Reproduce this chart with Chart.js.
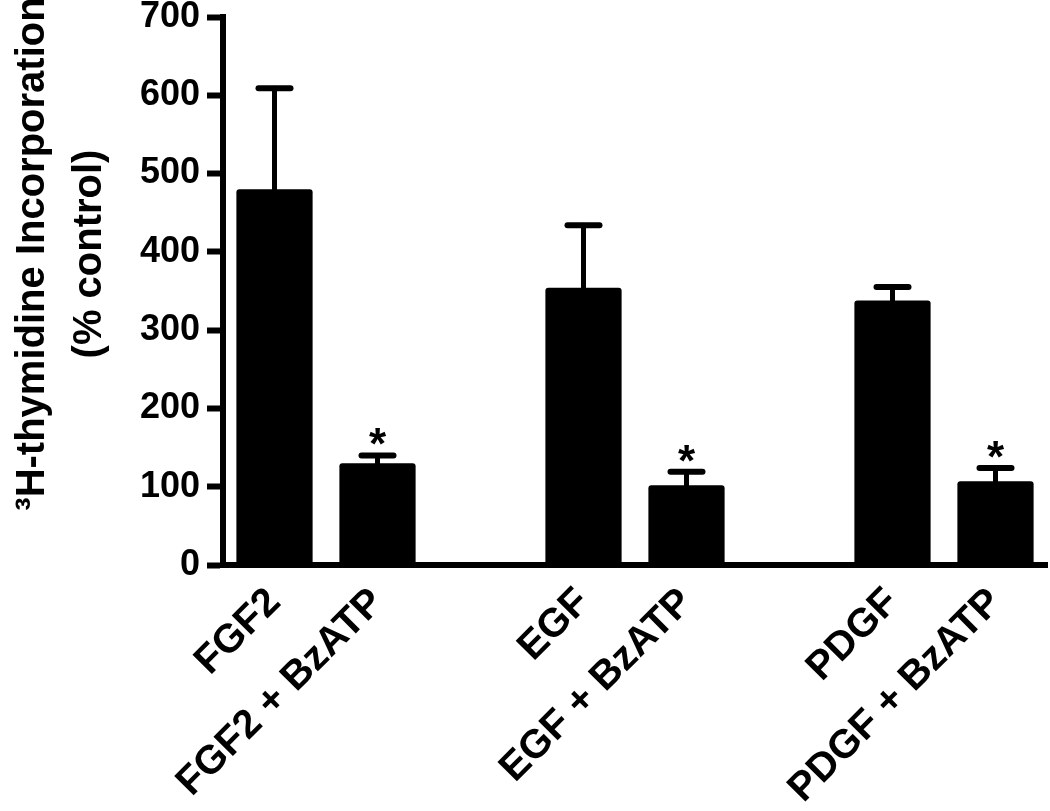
<!DOCTYPE html>
<html>
<head>
<meta charset="utf-8">
<script src="https://cdn.jsdelivr.net/npm/chart.js@4.4.0/dist/chart.umd.min.js"></script>
<style>
  html, body { margin: 0; padding: 0; background: #fff; }
  #wrap { position: relative; width: 1050px; height: 811px; }
</style>
</head>
<body>
<div id="wrap"><canvas id="chart"></canvas></div>
<script>
// data (empty slots are the gaps between groups)
const categories = ['FGF2', 'FGF2 + BzATP', '', 'EGF', 'EGF + BzATP', '', 'PDGF', 'PDGF + BzATP'];
const means = [480, 130, null, 354, 102, null, 338, 107];
const sem = [129, 10, null, 80, 17, null, 17, 17];
const significant = [false, true, false, false, true, false, false, true];
const titleLines = ['\u00b3H-thymidine Incorporation', '(% control)'];

const FONT = '"Liberation Sans", Arial, sans-serif';

// upper error bars + asterisks
const errorBars = {
  id: 'errorBars',
  afterDatasetsDraw(chart) {
    const ctx = chart.ctx;
    const y = chart.scales.y;
    const meta = chart.getDatasetMeta(0);
    ctx.save();
    ctx.strokeStyle = '#000';
    ctx.fillStyle = '#000';
    ctx.lineCap = 'round';
    meta.data.forEach((bar, i) => {
      if (means[i] == null) return;
      const top = y.getPixelForValue(means[i] + sem[i]);
      ctx.lineWidth = 5;
      ctx.beginPath();
      ctx.moveTo(bar.x, bar.y);
      ctx.lineTo(bar.x, top);
      ctx.stroke();
      ctx.lineWidth = 6;
      ctx.beginPath();
      ctx.moveTo(bar.x - 16, top);
      ctx.lineTo(bar.x + 16, top);
      ctx.stroke();
      if (significant[i]) {
        ctx.font = 'bold 44px ' + FONT;
        ctx.textAlign = 'center';
        ctx.textBaseline = 'alphabetic';
        ctx.fillText('*', bar.x, top + 4);
      }
    });
    ctx.restore();
  }
};

// y axis title sits a bit above the middle of the axis in the original
const yTitle = {
  id: 'yTitle',
  afterDraw(chart) {
    const ctx = chart.ctx;
    ctx.save();
    ctx.translate(61, 254);
    ctx.rotate(-Math.PI / 2);
    ctx.font = 'bold 40px ' + FONT;
    ctx.fillStyle = '#000';
    ctx.textAlign = 'center';
    ctx.textBaseline = 'middle';
    ctx.fillText(titleLines[0], 0, -28);
    ctx.fillText(titleLines[1], 0, 29);
    ctx.restore();
  }
};

new Chart(document.getElementById('chart'), {
  type: 'bar',
  data: {
    labels: categories,
    datasets: [{
      data: means,
      backgroundColor: '#000',
      borderRadius: 3,
      borderSkipped: 'bottom',
      barPercentage: 0.74,
      categoryPercentage: 1.0
    }]
  },
  options: {
    responsive: true,
    maintainAspectRatio: false,
    animation: false,
    layout: { padding: { left: 137, top: 17, right: 3, bottom: 0 } },
    plugins: {
      legend: { display: false },
      tooltip: { enabled: false }
    },
    scales: {
      x: {
        afterFit(scale) {
          scale.height = 246;
          scale.paddingLeft = 0;
          scale.paddingRight = 0;
        },
        grid: { display: false, drawTicks: false },
        border: { display: true, color: '#000', width: 6 },
        ticks: {
          autoSkip: false,
          maxRotation: 45,
          minRotation: 45,
          color: '#000',
          padding: 14,
          font: { family: FONT, size: 40, weight: 'bold' }
        }
      },
      y: {
        min: 0,
        max: 700,
        afterFit(scale) {
          scale.width = 86;
          scale.paddingTop = 0;
          scale.paddingBottom = 0;
        },
        ticks: {
          stepSize: 100,
          color: '#000',
          padding: 7,
          font: { family: FONT, size: 36, weight: 'bold' }
        },
        grid: {
          drawOnChartArea: false,
          drawTicks: true,
          tickLength: 16,
          tickWidth: 6,
          tickColor: '#000'
        },
        border: { display: true, color: '#000', width: 6 }
      }
    }
  },
  plugins: [errorBars, yTitle]
});
</script>
</body>
</html>
